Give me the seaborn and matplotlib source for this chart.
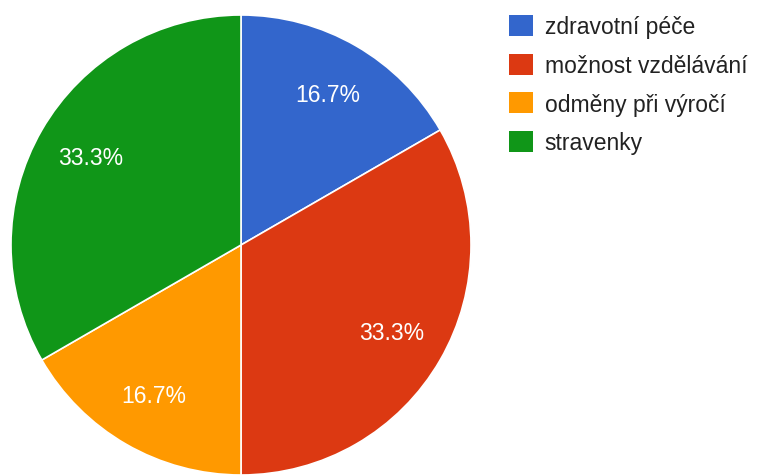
import matplotlib
matplotlib.use("Agg")
import matplotlib.pyplot as plt
import matplotlib.patches as mpatches
import seaborn as sns

categories = ["zdravotní péče", "možnost vzdělávání", "odměny při výročí", "stravenky"]
values = [1, 2, 1, 2]
colors = ["#3366cc", "#dc3912", "#ff9900", "#109618"]

sns.set_theme(style="white")
plt.rcParams["font.family"] = ["Liberation Sans", "DejaVu Sans"]

W, H = 762, 477
fig = plt.figure(figsize=(W / 100, H / 100), dpi=100)
cx, cy, r = 241, 246, 230
ax = fig.add_axes([(cx - r) / W, (H - cy - r) / H, 2 * r / W, 2 * r / H])

wedges, texts, autotexts = ax.pie(
    values,
    colors=colors,
    startangle=90,
    counterclock=False,
    autopct="%.1f%%",
    pctdistance=0.757,
    wedgeprops=dict(edgecolor="white", linewidth=1.2),
    textprops=dict(color="white", fontsize=16.5),
)
ax.set_xlim(-1, 1)
ax.set_ylim(-1, 1)
ax.set_aspect("equal")
ax.axis("off")

handles = [mpatches.Patch(facecolor=c, edgecolor="none") for c in colors]
leg = fig.legend(
    handles, categories,
    loc="upper left",
    bbox_to_anchor=(509 / W, 1 - 16 / H),
    bbox_transform=fig.transFigure,
    frameon=False,
    fontsize=16.5,
    handlelength=1.05,
    handleheight=1.05,
    handletextpad=0.5,
    labelspacing=0.66,
    borderpad=0,
    borderaxespad=0,
)
for t in leg.get_texts():
    t.set_color("#222222")

fig.savefig("out.png", dpi=100)
